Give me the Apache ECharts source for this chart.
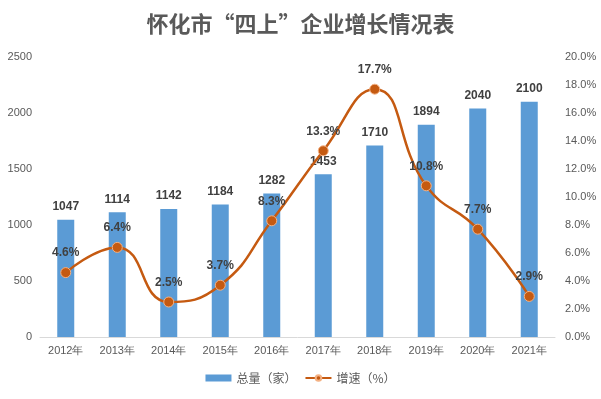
<!DOCTYPE html>
<html>
<head>
<meta charset="utf-8">
<script src="https://cdn.jsdelivr.net/npm/echarts@6/dist/echarts.min.js"></script>
<style>
    html, body { margin: 0; padding: 0; background: #fff; }
    #chart { width: 601px; height: 399px; }
</style>
</head>
<body>
<div id="chart"></div>
<script>
    // 数据
    var years = ['2012年', '2013年', '2014年', '2015年', '2016年', '2017年', '2018年', '2019年', '2020年', '2021年'];
    var totalData = [1047, 1114, 1142, 1184, 1282, 1453, 1710, 1894, 2040, 2100];
    var rateData = [4.6, 6.4, 2.5, 3.7, 8.3, 13.3, 17.7, 10.8, 7.7, 2.9];

    var myChart = echarts.init(document.getElementById('chart'));
    var option = {
        title: {
            text: '怀化市“四上”企业增长情况表',
            left: 'center',
            top: 8,
            textStyle: {
                fontSize: 22,
                fontWeight: 'bold',
                color: '#595959',
                fontFamily: 'Noto Sans CJK SC'
            }
        },
        grid: {
            top: 57,
            left: 40,
            right: 46,
            bottom: 62
        },
        legend: {
            bottom: 10,
            left: 'center',
            itemGap: 8,
            textStyle: { color: '#595959', fontSize: 12, fontFamily: 'Noto Sans CJK SC' },
            data: [
                { name: '总量（家）', icon: 'rect' },
                { name: '增速（%）' }
            ],
            itemWidth: 26,
            itemHeight: 7
        },
        xAxis: [{
            type: 'category',
            data: years,
            axisTick: { show: false },
            axisLine: { lineStyle: { color: '#d9d9d9' } },
            axisLabel: { color: '#595959', fontSize: 11, margin: 8 }
        }],
        yAxis: [{
            type: 'value',
            min: 0,
            max: 2500,
            interval: 500,
            splitLine: { show: false },
            axisLine: { show: false },
            axisLabel: {
                color: '#595959',
                fontSize: 11,
                margin: 8,
                formatter: function (v) { return String(v); }
            }
        }, {
            type: 'value',
            min: 0,
            max: 20,
            interval: 2,
            splitLine: { show: false },
            axisLine: { show: false },
            axisLabel: {
                color: '#595959',
                fontSize: 11,
                margin: 10,
                formatter: function (v) { return v.toFixed(1) + '%'; }
            }
        }],
        series: [{
            name: '总量（家）',
            type: 'bar',
            data: totalData,
            barWidth: 17,
            itemStyle: { color: '#5B9BD5' },
            label: {
                show: true,
                position: 'top',
                distance: 7,
                color: '#404040',
                fontWeight: 'bold',
                fontSize: 12
            }
        }, {
            name: '增速（%）',
            type: 'line',
            yAxisIndex: 1,
            data: rateData,
            smooth: 0.5,
            symbol: 'circle',
            symbolSize: 10,
            lineStyle: { color: '#C55A11', width: 2.5 },
            itemStyle: { color: '#C55A11', borderColor: '#F4B183', borderWidth: 1 },
            label: {
                show: true,
                position: 'top',
                distance: 8,
                color: '#404040',
                fontWeight: 'bold',
                fontSize: 12,
                formatter: '{c}%'
            }
        }]
    };
    myChart.setOption(option);
</script>
</body>
</html>
